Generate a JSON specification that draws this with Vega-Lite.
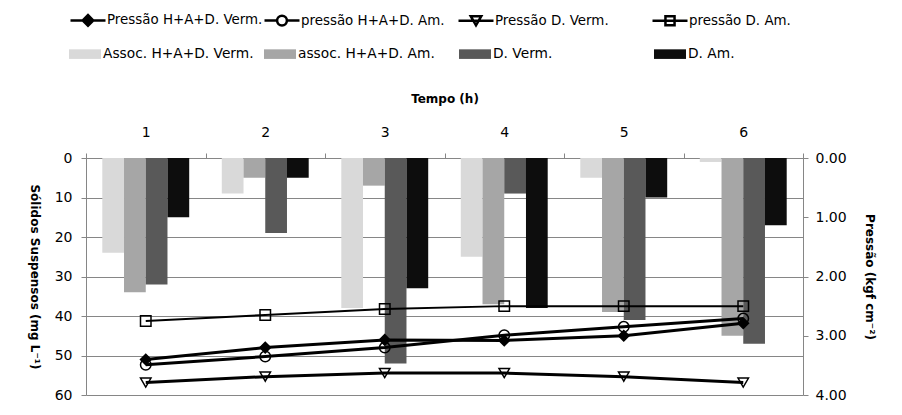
{
  "$schema": "https://vega.github.io/schema/vega-lite/v6.json",
  "autosize": "none",
  "width": 717,
  "height": 237,
  "padding": {"left": 86, "top": 158, "right": 99, "bottom": 20},
  "background": "white",
  "config": {
    "view": {"stroke": null},
    "font": "DejaVu Sans",
    "axis": {
      "labelFont": "DejaVu Sans", "titleFont": "DejaVu Sans",
      "labelFontSize": 14, "titleFontSize": 12, "titleFontWeight": "bold",
      "labelColor": "black", "titleColor": "black",
      "domainColor": "#868686", "tickColor": "#868686", "gridColor": "#868686",
      "gridOpacity": 1, "tickSize": 5
    },
    "legend": {"labelFont": "DejaVu Sans", "labelFontSize": 13.75, "labelColor": "black", "labelLimit": 300}
  },
  "datasets": {
    "bars": [
      {"t": 1, "grupo": "Assoc. H+A+D. Verm.", "v": 24},
      {"t": 1, "grupo": "assoc. H+A+D. Am.", "v": 34},
      {"t": 1, "grupo": "D. Verm.", "v": 32},
      {"t": 1, "grupo": "D. Am.", "v": 15},
      {"t": 2, "grupo": "Assoc. H+A+D. Verm.", "v": 9},
      {"t": 2, "grupo": "assoc. H+A+D. Am.", "v": 5},
      {"t": 2, "grupo": "D. Verm.", "v": 19},
      {"t": 2, "grupo": "D. Am.", "v": 5},
      {"t": 3, "grupo": "Assoc. H+A+D. Verm.", "v": 38},
      {"t": 3, "grupo": "assoc. H+A+D. Am.", "v": 7},
      {"t": 3, "grupo": "D. Verm.", "v": 52},
      {"t": 3, "grupo": "D. Am.", "v": 33},
      {"t": 4, "grupo": "Assoc. H+A+D. Verm.", "v": 25},
      {"t": 4, "grupo": "assoc. H+A+D. Am.", "v": 37},
      {"t": 4, "grupo": "D. Verm.", "v": 9},
      {"t": 4, "grupo": "D. Am.", "v": 38},
      {"t": 5, "grupo": "Assoc. H+A+D. Verm.", "v": 5},
      {"t": 5, "grupo": "assoc. H+A+D. Am.", "v": 39},
      {"t": 5, "grupo": "D. Verm.", "v": 41},
      {"t": 5, "grupo": "D. Am.", "v": 10},
      {"t": 6, "grupo": "Assoc. H+A+D. Verm.", "v": 1},
      {"t": 6, "grupo": "assoc. H+A+D. Am.", "v": 45},
      {"t": 6, "grupo": "D. Verm.", "v": 47},
      {"t": 6, "grupo": "D. Am.", "v": 17}
    ],
    "press": [
      {"t": 1, "serie": "Pressão H+A+D. Verm.", "p": 3.40},
      {"t": 2, "serie": "Pressão H+A+D. Verm.", "p": 3.20},
      {"t": 3, "serie": "Pressão H+A+D. Verm.", "p": 3.07},
      {"t": 4, "serie": "Pressão H+A+D. Verm.", "p": 3.08},
      {"t": 5, "serie": "Pressão H+A+D. Verm.", "p": 3.00},
      {"t": 6, "serie": "Pressão H+A+D. Verm.", "p": 2.79},
      {"t": 1, "serie": "pressão H+A+D. Am.", "p": 3.49},
      {"t": 2, "serie": "pressão H+A+D. Am.", "p": 3.35},
      {"t": 3, "serie": "pressão H+A+D. Am.", "p": 3.20},
      {"t": 4, "serie": "pressão H+A+D. Am.", "p": 2.99},
      {"t": 5, "serie": "pressão H+A+D. Am.", "p": 2.85},
      {"t": 6, "serie": "pressão H+A+D. Am.", "p": 2.71},
      {"t": 1, "serie": "Pressão D. Verm.", "p": 3.79},
      {"t": 2, "serie": "Pressão D. Verm.", "p": 3.69},
      {"t": 3, "serie": "Pressão D. Verm.", "p": 3.63},
      {"t": 4, "serie": "Pressão D. Verm.", "p": 3.63},
      {"t": 5, "serie": "Pressão D. Verm.", "p": 3.69},
      {"t": 6, "serie": "Pressão D. Verm.", "p": 3.79},
      {"t": 1, "serie": "pressão D. Am.", "p": 2.75},
      {"t": 2, "serie": "pressão D. Am.", "p": 2.65},
      {"t": 3, "serie": "pressão D. Am.", "p": 2.55},
      {"t": 4, "serie": "pressão D. Am.", "p": 2.50},
      {"t": 5, "serie": "pressão D. Am.", "p": 2.50},
      {"t": 6, "serie": "pressão D. Am.", "p": 2.50}
    ]
  },
  "encoding": {
    "x": {
      "field": "t", "type": "ordinal",
      "scale": {"paddingInner": 0, "paddingOuter": 0},
      "axis": {
        "orient": "top", "title": "Tempo (h)", "labelAngle": 0,
        "tickBand": "extent", "labelPadding": 14, "titlePadding": 20
      }
    }
  },
  "layer": [
    {
      "data": {"name": "bars"},
      "mark": {"type": "bar"},
      "encoding": {
        "xOffset": {
          "field": "grupo", "type": "nominal",
          "sort": ["Assoc. H+A+D. Verm.", "assoc. H+A+D. Am.", "D. Verm.", "D. Am."],
          "scale": {"paddingInner": 0, "paddingOuter": 0.75}
        },
        "y": {
          "field": "v", "type": "quantitative",
          "scale": {"domain": [0, 60], "reverse": true, "nice": false},
          "axis": {
            "orient": "left", "values": [0, 10, 20, 30, 40, 50, 60], "grid": true,
            "title": "Sólidos Suspensos (mg L⁻¹)", "titleAngle": 90,
            "labelPadding": 9, "titlePadding": 27
          }
        },
        "color": {
          "field": "grupo", "type": "nominal",
          "scale": {
            "domain": ["Assoc. H+A+D. Verm.", "assoc. H+A+D. Am.", "D. Verm.", "D. Am."],
            "range": ["#d9d9d9", "#a6a6a6", "#595959", "#0d0d0d"]
          },
          "legend": {
            "title": null, "orient": "none", "legendX": -17, "legendY": -120,
            "direction": "horizontal", "columns": 4, "gridAlign": "all", "columnPadding": 10,
            "symbolType": "M-1,-0.3H1V0.3H-1Z", "symbolSize": 1024, "symbolStrokeWidth": 0,
            "labelOffset": 2
          }
        }
      }
    },
    {
      "data": {"name": "press"},
      "encoding": {
        "y": {
          "field": "p", "type": "quantitative",
          "scale": {"domain": [0, 4], "reverse": true, "nice": false}
        }
      },
      "layer": [
        {
          "mark": {"type": "line", "color": "black"},
          "encoding": {
            "detail": {"field": "serie"},
            "strokeWidth": {
              "condition": {"test": "datum.serie === 'pressão D. Am.'", "value": 2},
              "value": 3
            },
            "y": {
              "field": "p", "type": "quantitative",
              "axis": {
                "orient": "right", "values": [0, 0.5, 1, 1.5, 2, 2.5, 3, 3.5, 4], "format": ".2f",
                "grid": false, "title": "Pressão (kgf cm⁻²)", "titleAngle": 90,
                "labelPadding": 7, "titlePadding": 16
              }
            }
          }
        },
        {
          "mark": {"type": "point", "filled": true, "stroke": "black", "strokeWidth": 1.5, "opacity": 1, "size": 110},
          "encoding": {
            "fill": {
              "condition": {"test": "datum.serie === 'Pressão H+A+D. Verm.'", "value": "black"},
              "value": "transparent"
            },
            "shape": {
              "field": "serie", "type": "nominal",
              "scale": {
                "domain": ["Pressão H+A+D. Verm.", "pressão H+A+D. Am.", "Pressão D. Verm.", "pressão D. Am."],
                "range": ["diamond", "circle", "triangle-down", "square"]
              },
              "legend": null
            }
          }
        },
        {
          "mark": {"type": "point", "filled": false, "stroke": "black", "opacity": 0, "size": 110},
          "encoding": {
            "shape": {
              "field": "serie", "type": "nominal",
              "scale": {
                "domain": ["Pressão H+A+D. Verm.", "pressão H+A+D. Am.", "Pressão D. Verm.", "pressão D. Am."],
                "range": [
                  "M-1,0H1M-0.3,0L0,-0.3L0.3,0L0,0.3ZM-0.2,0L0,-0.2L0.2,0L0,0.2ZM-0.1,0L0,-0.1L0.1,0L0,0.1Z",
                  "M-1,0H-0.28M0.28,0H1M-0.28,0A0.28,0.28,0,1,0,0.28,0A0.28,0.28,0,1,0,-0.28,0Z",
                  "M-1,0H1M-0.3,-0.26L0.3,-0.26L0,0.26Z",
                  "M-1,0H1M-0.26,-0.26H0.26V0.26H-0.26Z"
                ]
              },
              "legend": {
                "title": null, "orient": "none", "legendX": -17, "legendY": -157,
                "direction": "horizontal", "columns": 4, "gridAlign": "all", "columnPadding": -7,
                "symbolSize": 1225, "labelOffset": 0, "labelFontSize": 13.4,
                "symbolOpacity": 1, "symbolStrokeColor": "black", "symbolFillColor": "transparent",
                "symbolStrokeWidth": 2.5
              }
            }
          }
        }
      ],
      "resolve": {"scale": {"shape": "independent"}}
    }
  ],
  "resolve": {"scale": {"y": "independent"}}
}
